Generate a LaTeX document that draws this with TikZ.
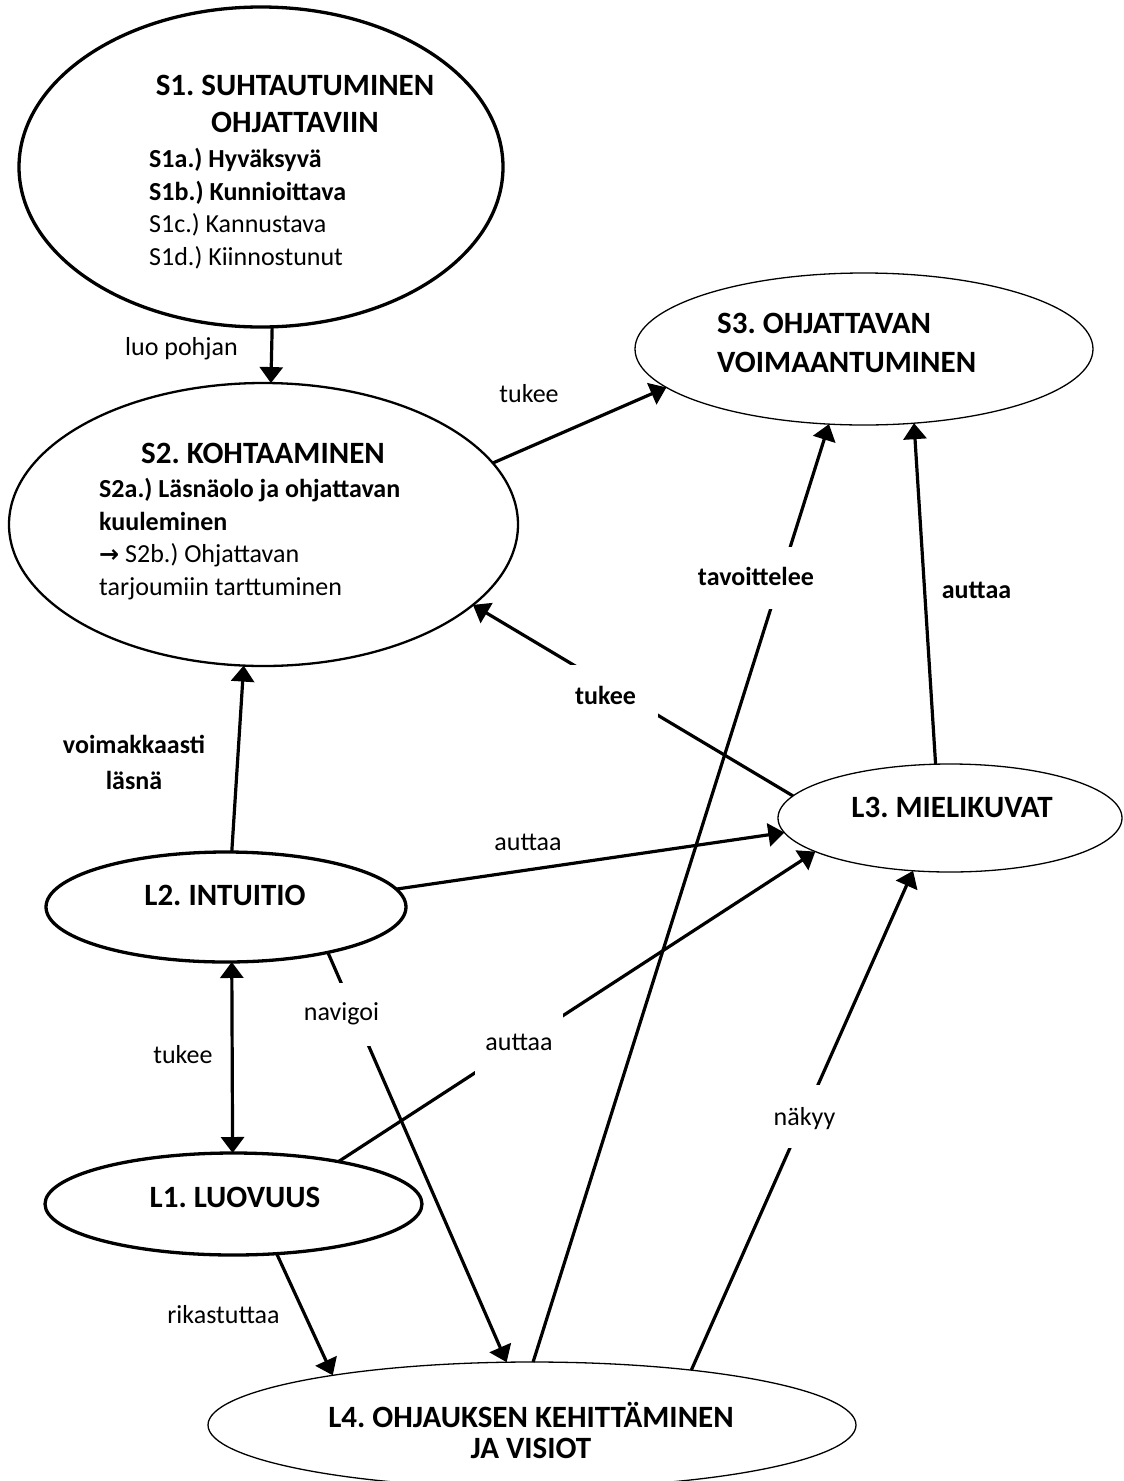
\documentclass[tikz,border=0pt]{standalone}
\usepackage{fontspec}
\setmainfont{Carlito}
\newfontfamily\symf{DejaVu Sans}
\usetikzlibrary{arrows.meta,shapes.geometric}
\frenchspacing
\begin{document}
\begin{tikzpicture}[x=1pt,y=-1pt,
  ell/.style={ellipse, draw, fill=white, inner sep=0pt, outer sep=0pt},
  conn/.style={line width=3.2pt, -{Triangle[length=16pt,width=23pt]}},
  conntwo/.style={line width=3.2pt, {Triangle[length=16pt,width=23pt]}-{Triangle[length=16pt,width=23pt]}},
  ttl/.style={font=\fontsize{31}{38}\selectfont\bfseries, inner sep=0pt, anchor=base},
  itm/.style={font=\fontsize{26}{32}\selectfont, inner sep=0pt, anchor=base west},
  itmb/.style={itm, font=\fontsize{26}{32}\selectfont\bfseries},
  lab/.style={font=\fontsize{26}{32}\selectfont, inner sep=0pt, anchor=base},
  labb/.style={lab, font=\fontsize{26}{32}\selectfont\bfseries},
  gap/.style={fill=white, inner xsep=6pt, inner ysep=0pt, anchor=base},
]
\useasboundingbox (0,0) rectangle (1124,1481);

% ellipses
\node[ell, line width=3.3pt, minimum width=484pt, minimum height=320pt] (S1) at (261,167) {};
\node[ell, line width=2.3pt, minimum width=509pt, minimum height=283pt] (S2) at (263.5,524.5) {};
\node[ell, line width=1.3pt, minimum width=458pt, minimum height=152pt] (S3) at (864,349) {};
\node[ell, line width=3.3pt, minimum width=360pt, minimum height=110pt] (L2) at (226,907) {};
\node[ell, line width=1.3pt, minimum width=344pt, minimum height=108pt] (L3) at (950,818) {};
\node[ell, line width=3.3pt, minimum width=377pt, minimum height=102pt] (L1) at (233.5,1204) {};
\node[ell, line width=1.3pt, minimum width=648pt, minimum height=126pt] (L4) at (532,1425) {};

% texts in ellipses
\node[ttl] (s1t1) at (295,95) {S1. SUHTAUTUMINEN};
\node[ttl] (s1t2) at (295,132) {OHJATTAVIIN};
\node[itmb] (s1a) at (149,167) {S1a.) Hyväksyvä};
\node[itmb] (s1b) at (149,200) {S1b.) Kunnioittava};
\node[itm] (s1c) at (149,232) {S1c.) Kannustava};
\node[itm] (s1d) at (149,265) {S1d.) Kiinnostunut};

\node[ttl] (s2t) at (263,463) {S2. KOHTAAMINEN};
\node[itmb] (s2a) at (99,497) {S2a.) Läsnäolo ja ohjattavan};
\node[itmb] (s2a2) at (99,530) {kuuleminen};
\node[itm] (s2b) at (99,562) {{\symf\bfseries\fontsize{24}{28}\selectfont →} S2b.) Ohjattavan};
\node[itm] (s2b2) at (99,595) {tarjoumiin tarttuminen};

\node[ttl, anchor=base west] (s3t1) at (717,333) {S3. OHJATTAVAN};
\node[ttl, anchor=base west] (s3t2) at (717,372) {VOIMAANTUMINEN};

\node[ttl] (l2t) at (225,905) {L2. INTUITIO};
\node[ttl] (l3t) at (952,817) {L3. MIELIKUVAT};
\node[ttl] (l1t) at (235,1207) {L1. LUOVUUS};
\node[ttl] (l4t1) at (531,1427) {L4. OHJAUKSEN KEHITTÄMINEN};
\node[ttl] (l4t2) at (531,1458) {JA VISIOT};

% connectors
\draw[conn] (S1.-86.8) -- (S2.87.4);
\draw[conn] (S2.15.05) -- (S3.-169.94);
\draw[conn] (L2.84.8) -- (S2.-98.2);
\draw[conntwo] (L2.-84.8) -- (L1.91.7);
\draw[conn] (L2.6.6) -- (L3.-175.3);
\draw[conn] (L1.22.8) -- (L3.-166.2);
\draw[conn] (L4.89.1) -- (S3.-115.96);
\draw[conn] (L3.105.5) -- (S3.-56.7);
\draw[conn] (L3.172.5) -- (S2.-21.1);
\draw[conn] (L2.-24.9) -- (L4.112.4);
\draw[conn] (L1.-49.5) -- (L4.166.8);
\draw[conn] (L4.19.3) -- (L3.-125.1);

% labels
\node[lab] (luo) at (181.5,355) {luo pohjan};
\node[lab] (tuk1) at (529,402) {tukee};
\node[labb] (voim1) at (134,753) {voimakkaasti};
\node[labb] (voim2) at (134,789) {läsnä};
\node[lab] (aut1) at (528,850) {auttaa};
\node[lab] (tuk2) at (183,1063) {tukee};
\node[lab] (rik) at (223.5,1323) {rikastuttaa};
\node[labb] (aut3) at (976.5,598) {auttaa};

% labels that interrupt their lines
\node[lab, gap, text height=37pt, text depth=26pt] (nav) at (341.5,1020) {navigoi};
\node[lab, gap, inner xsep=10pt, text height=39pt, text depth=27pt] (aut2) at (519,1050) {auttaa};
\node[labb, gap, inner xsep=22pt, text height=39pt, text depth=13pt] (tuk3) at (605.5,704) {tukee};
\node[labb, gap, text height=38pt, text depth=24pt] (tav) at (756,585) {tavoittelee};
\node[lab, gap, text height=40pt, text depth=23pt] (nak) at (804.5,1125) {näkyy};
\end{tikzpicture}
\end{document}
